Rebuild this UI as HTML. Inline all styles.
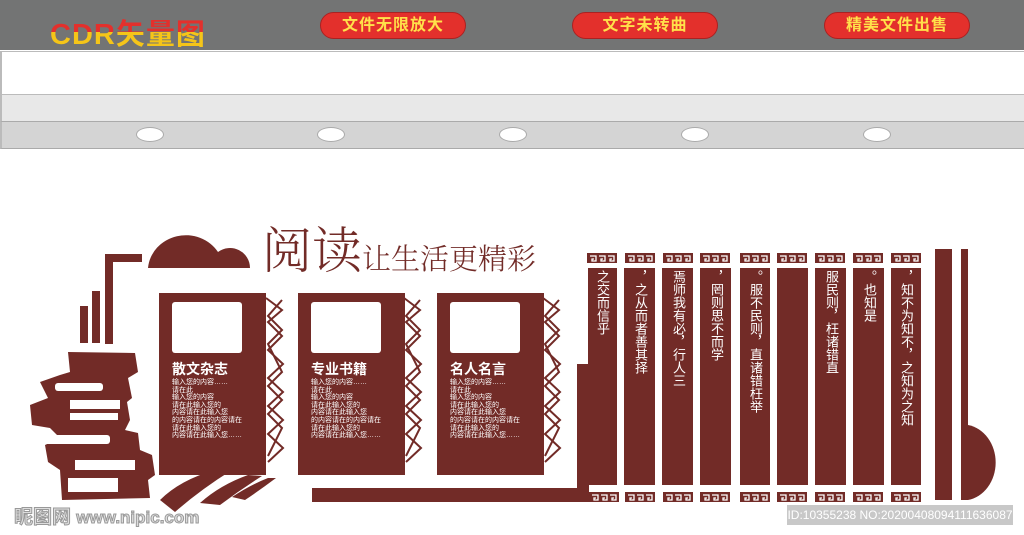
<!DOCTYPE html>
<html><head><meta charset="utf-8"><style>
*{margin:0;padding:0;box-sizing:border-box}
body{width:1024px;height:535px;overflow:hidden;background:#fff;position:relative;font-family:"Liberation Sans","Noto Sans CJK SC",sans-serif}
.a{position:absolute}
.btn{position:absolute;top:12px;width:146px;height:27px;border-radius:14px;background:#e3302c;border:1px solid #a22;color:#ffe14a;font-weight:bold;font-size:16px;text-align:center;line-height:26px;letter-spacing:1px}
.ov{position:absolute;top:127px;width:28px;height:15px;border-radius:50%;background:#fff;border:1px solid #aaa}
.panel{position:absolute;top:293px;width:107px;height:182px;background:#722b27;color:#fff}
.win{position:absolute;left:13px;top:9px;width:70px;height:51px;background:#fff;border-radius:3px}
.pt{position:absolute;left:13px;top:69px;font-size:14px;line-height:15px;font-weight:bold}
.ps{position:absolute;left:13px;top:86px;font-size:7px;line-height:7.6px;white-space:nowrap}
.col{position:absolute;top:268px;height:217px;background:#722b27;color:#fff;font-size:13px;writing-mode:vertical-rl;text-align:left;padding-top:2px;line-height:30px;overflow:hidden}
</style></head><body>
<div class="a" style="left:0;top:0;width:1024px;height:50px;background:#737474"></div>
<div class="a" style="left:50px;top:11px;font-size:29px;font-weight:bold;letter-spacing:1px;background:linear-gradient(#e3302c 0,#e3302c 50%,#f5c518 50%);-webkit-background-clip:text;background-clip:text;color:transparent">CDR矢量图</div>
<div class="btn" style="left:320px">文件无限放大</div>
<div class="btn" style="left:572px">文字未转曲</div>
<div class="btn" style="left:824px">精美文件出售</div>
<div class="a" style="left:0;top:51px;width:1024px;height:43px;background:#fff;border-top:1px solid #bbb;border-left:2px solid #bbb"></div>
<div class="a" style="left:0;top:94px;width:1024px;height:28px;background:#e8e8e8;border-top:1px solid #bbb;border-left:2px solid #bbb"></div>
<div class="a" style="left:0;top:121px;width:1024px;height:28px;background:#d4d4d4;border-top:1px solid #aaa;border-bottom:1px solid #aaa;border-left:2px solid #bbb"></div>
<div class="ov" style="left:136px"></div><div class="ov" style="left:317px"></div><div class="ov" style="left:499px"></div><div class="ov" style="left:681px"></div><div class="ov" style="left:863px"></div>

<svg class="a" style="left:0;top:0" width="1024" height="535">
<g fill="#722b27">
<path d="M148 268 A38 36 0 0 1 218 252 A20 20 0 0 1 250 268 Z"/>
<rect x="105" y="254" width="37" height="8"/><rect x="105" y="254" width="8" height="90"/>
<rect x="80" y="306" width="8" height="37"/><rect x="92" y="291" width="8" height="52"/>
<path d="M68 352 L135 353 L138 372 L128 378 L132 398 L127 402 L130 420 L125 430 L138 433 L140 450 L152 455 L155 475 L148 480 L150 498 L62 500 L60 470 L48 462 L45 445 L60 438 L50 428 L32 425 L30 405 L48 398 L40 382 L60 375 L70 372 Z"/>
<path d="M160 500 Q180 480 215 470 L232 470 Q200 490 175 512 Z"/>
<path d="M200 503 Q220 485 248 475 L262 476 Q240 490 220 505 Z"/>
<path d="M232 497 Q250 485 268 478 L276 478 Q260 490 245 500 Z"/>
<rect x="312" y="488" width="276" height="14"/>
<rect x="577" y="364" width="12" height="138"/>
</g>
<g fill="#fff">
<rect x="55" y="383" width="48" height="8" rx="3"/><rect x="70" y="400" width="50" height="9"/>
<rect x="70" y="413" width="48" height="7"/><rect x="40" y="435" width="70" height="9" rx="3"/>
<rect x="75" y="460" width="60" height="10"/><rect x="68" y="478" width="50" height="14"/>
</g>
<g stroke="#722b27" stroke-width="2" fill="none">
<polyline points="266,298 282,310 268,322 282,336 268,350 283,364 268,378 283,392 268,406 283,420 268,434 283,448 268,462"/>
<polyline points="404,298 420,310 406,322 420,336 406,350 421,364 406,378 421,392 406,406 421,420 406,434 421,448 406,462"/>
<polyline points="543,298 559,310 545,322 559,336 545,350 560,364 545,378 560,392 545,406 560,420 545,434 560,448 545,462"/>
<polyline points="282,300 268,316 282,330 268,344 282,372 268,386 282,400 268,414 282,428 268,456"/>
<polyline points="420,300 406,316 420,330 406,344 420,372 406,386 420,400 406,414 420,428 406,456"/>
<polyline points="559,300 545,316 559,330 545,344 559,372 545,386 559,400 545,414 559,428 545,456"/>
</g>
<g fill="#722b27">
<rect x="935" y="249" width="17" height="251"/><rect x="961" y="249" width="7" height="251"/>
<path d="M968 425 A33 38 0 0 1 968 500 Z"/>
</g>
</svg>

<div class="a" style="left:262px;top:214px;color:#722b27;font-size:50px;font-family:'Noto Serif CJK SC',serif;font-weight:300;line-height:66px">阅读</div>
<div class="a" style="left:362px;top:240px;color:#722b27;font-size:29px;font-family:'Noto Serif CJK SC',serif;font-weight:300;line-height:36px">让生活更精彩</div>

<div class="panel" style="left:159px"><div class="win"></div><div class="pt">散文杂志</div><div class="ps">输入您的内容……<br>请在此<br>输入您的内容<br>请在此输入您的<br>内容请在此输入您<br>的内容请在的内容请在<br>请在此输入您的<br>内容请在此输入您……</div></div>
<div class="panel" style="left:298px"><div class="win"></div><div class="pt">专业书籍</div><div class="ps">输入您的内容……<br>请在此<br>输入您的内容<br>请在此输入您的<br>内容请在此输入您<br>的内容请在的内容请在<br>请在此输入您的<br>内容请在此输入您……</div></div>
<div class="panel" style="left:437px"><div class="win"></div><div class="pt">名人名言</div><div class="ps">输入您的内容……<br>请在此<br>输入您的内容<br>请在此输入您的<br>内容请在此输入您<br>的内容请在的内容请在<br>请在此输入您的<br>内容请在此输入您……</div></div>

<div class="col" style="left:588px;width:29px">之交而信乎</div>
<div class="col" style="left:624px;width:31px">，之从而者善其择</div>
<div class="col" style="left:662px;width:31px">焉师我有必，行人三</div>
<div class="col" style="left:700px;width:31px">，罔则思不而学</div>
<div class="col" style="left:740px;width:30px">。服不民则，直诸错枉举</div>
<div class="col" style="left:777px;width:31px"></div>
<div class="col" style="left:815px;width:31px">服民则，枉诸错直</div>
<div class="col" style="left:853px;width:31px">。也知是</div>
<div class="col" style="left:891px;width:30px">，知不为知不，之知为之知</div>

<svg class="a" style="left:0;top:0" width="1024" height="535">
<defs><g id="f"><rect width="30" height="10" fill="#722b27"/><path d="M3 3h6v5h-4v-2h2M12 3h6v5h-4v-2h2M21 3h6v5h-4v-2h2" stroke="#fff" stroke-width="1.3" fill="none"/></g></defs>
<use href="#f" x="587" y="253"/><use href="#f" x="625" y="253"/><use href="#f" x="663" y="253"/><use href="#f" x="700" y="253"/><use href="#f" x="740" y="253"/><use href="#f" x="777" y="253"/><use href="#f" x="815" y="253"/><use href="#f" x="853" y="253"/><use href="#f" x="891" y="253"/>
<use href="#f" x="589" y="492"/><use href="#f" x="625" y="492"/><use href="#f" x="663" y="492"/><use href="#f" x="700" y="492"/><use href="#f" x="740" y="492"/><use href="#f" x="777" y="492"/><use href="#f" x="815" y="492"/><use href="#f" x="853" y="492"/><use href="#f" x="891" y="492"/>
</svg>

<div class="a" style="left:14px;top:502px;font-size:19px;color:#ddd;font-weight:bold;-webkit-text-stroke:1px #999">昵图网 <span style="font-size:17px">www.nipic.com</span></div>
<div class="a" style="left:787px;top:505px;width:226px;height:20px;background:#c8c8c8;color:#fff;font-size:12px;line-height:20px;text-align:center">ID:10355238 NO:20200408094111636087</div>
</body></html>
